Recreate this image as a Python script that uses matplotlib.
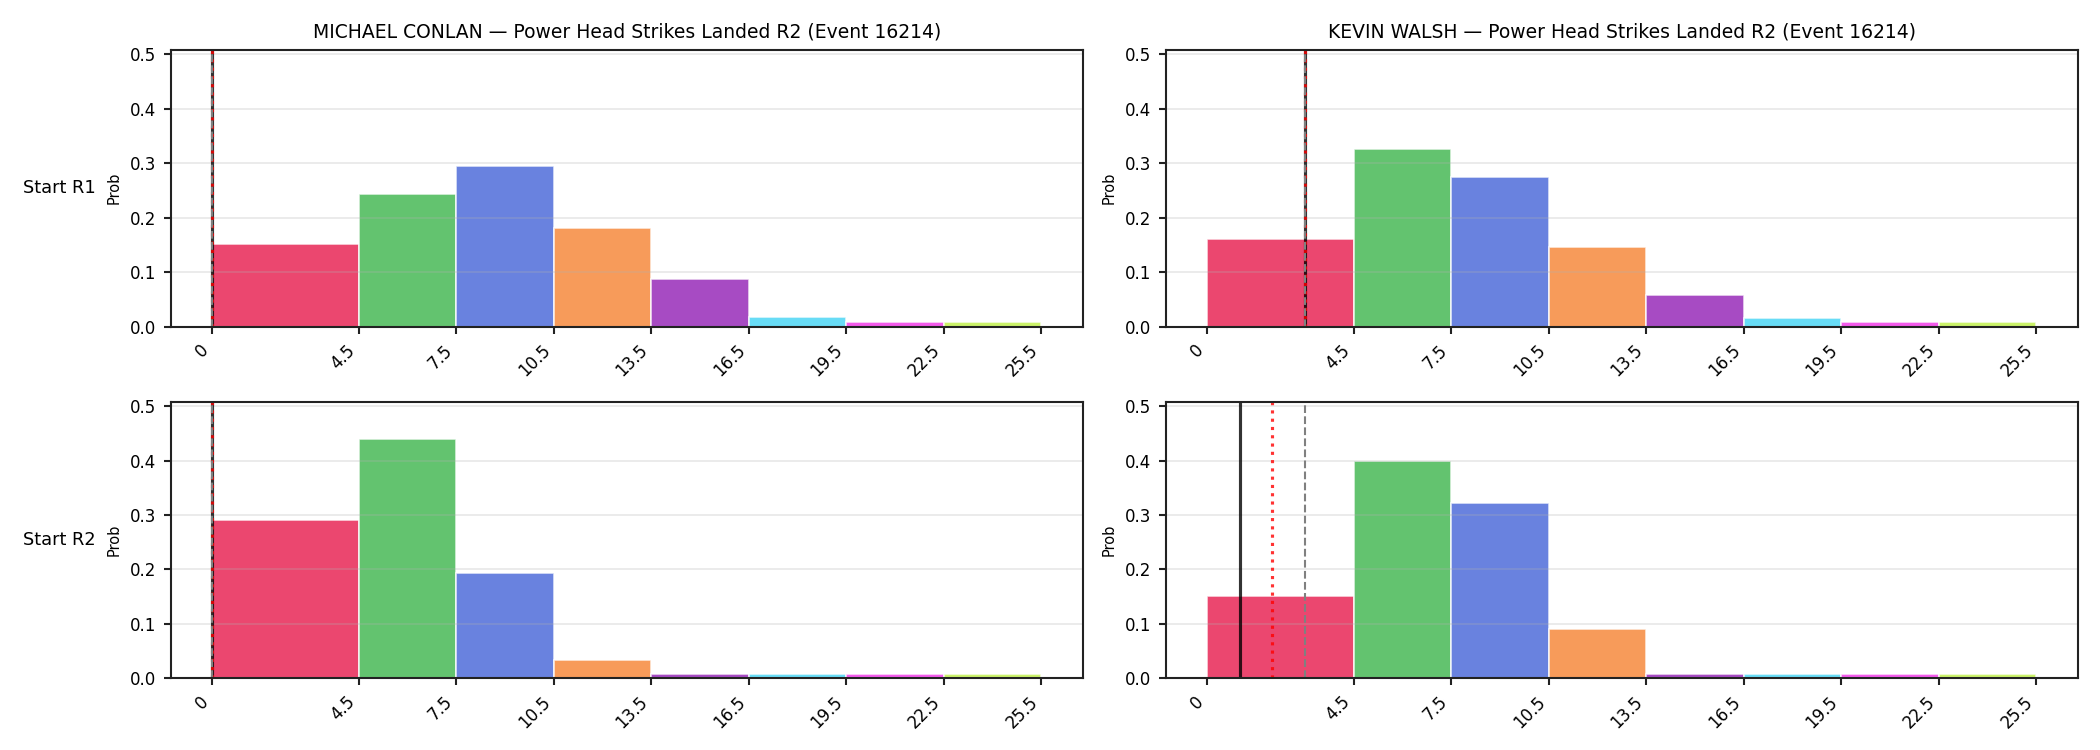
import numpy as np
import matplotlib
matplotlib.use("Agg")
import matplotlib.pyplot as plt

# bin edges of the strike-count buckets
edges = [0, 4.5, 7.5, 10.5, 13.5, 16.5, 19.5, 22.5, 25.5]
tick_labels = ["0", "4.5", "7.5", "10.5", "13.5", "16.5", "19.5", "22.5", "25.5"]

fighters = ["MICHAEL CONLAN", "KEVIN WALSH"]
rows = ["Start R1", "Start R2"]

# probabilities per bucket
conlan_r1 = [0.152, 0.244, 0.295, 0.181, 0.088, 0.018, 0.009, 0.009]
walsh_r1 = [0.160, 0.327, 0.274, 0.146, 0.058, 0.015, 0.009, 0.009]
conlan_r2 = [0.291, 0.440, 0.194, 0.034, 0.007, 0.007, 0.007, 0.007]
walsh_r2 = [0.152, 0.399, 0.322, 0.090, 0.007, 0.007, 0.007, 0.007]

# vertical markers: black solid, red dotted, gray dashed
conlan_r1_marks = [0, 0, 0]
walsh_r1_marks = [3, 3, 3]
conlan_r2_marks = [0, 0, 0]
walsh_r2_marks = [1, 2, 3]

palette = ["#e6194B", "#3cb44b", "#4363d8", "#f58231",
           "#911eb4", "#42d4f4", "#f032e6", "#bfef45"]


def draw_panel(ax, probs, marks, title=None):
   widths = np.diff(edges)
   ax.bar(edges[:-1], probs, width=widths, align="edge", color=palette,
          alpha=0.8, edgecolor="white", linewidth=0.8)

   ax.axvline(marks[0], color="black", alpha=0.8, linewidth=1.5)
   ax.axvline(marks[1], color="red", alpha=0.8, linestyle=":", linewidth=1.5)
   ax.axvline(marks[2], color="gray", linestyle="--", linewidth=1.0)

   ax.set_xticks(edges)
   ax.set_xticklabels(tick_labels, rotation=45, ha="right")
   ax.tick_params(labelsize=8, width=1.0, color="#222222")
   for spine in ax.spines.values():
      spine.set_linewidth(1.0)
      spine.set_color("#222222")
   ax.set_ylim(0, 0.508)
   ax.set_ylabel("Prob", fontsize=7)
   ax.grid(axis="y", alpha=0.3)
   if title:
      ax.set_title(title, fontsize=9)


def main():
   fig, axes = plt.subplots(2, 2, figsize=(14, 5), dpi=150)
   fig.subplots_adjust(left=0.0814, right=0.9894, top=0.9333, bottom=0.0956,
                       wspace=0.0911, hspace=0.272)

   data = [[conlan_r1, walsh_r1], [conlan_r2, walsh_r2]]
   marks = [[conlan_r1_marks, walsh_r1_marks], [conlan_r2_marks, walsh_r2_marks]]

   for i in range(2):
      for j in range(2):
         title = None
         if i == 0:
            title = fighters[j] + " \u2014 Power Head Strikes Landed R2 (Event 16214)"
         draw_panel(axes[i][j], data[i][j], marks[i][j], title)

   for i, label in enumerate(rows):
      pos = axes[i][0].get_position()
      fig.text(0.011, (pos.y0 + pos.y1) / 2, label, ha="left", va="center", fontsize=8.5)

   fig.savefig("out.png", dpi=150)
   plt.close(fig)


if __name__ == "__main__":
   main()
